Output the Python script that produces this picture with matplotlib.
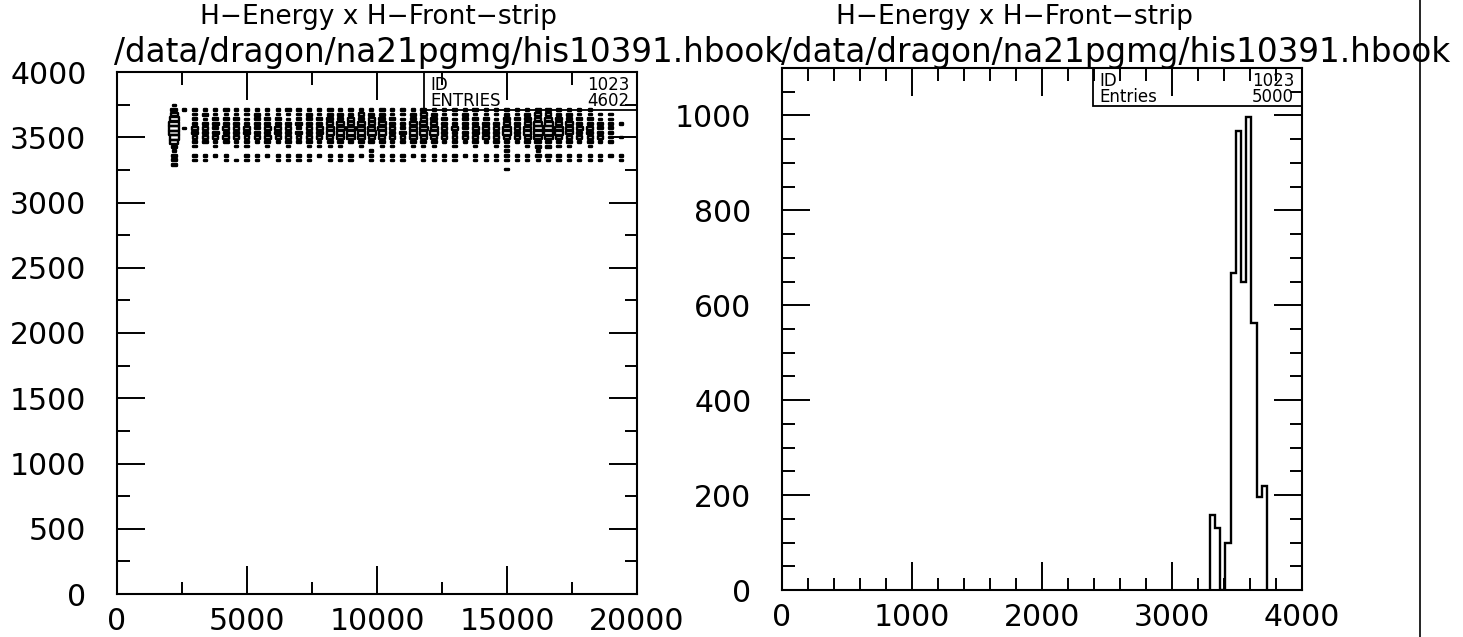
import matplotlib
matplotlib.use("Agg")
import matplotlib.pyplot as plt
import numpy as np
from matplotlib.patches import Rectangle
from matplotlib.collections import PatchCollection
from matplotlib.lines import Line2D
from matplotlib.ticker import MultipleLocator

title1 = "H\u2212Energy x H\u2212Front\u2212strip"
title2 = "/data/dragon/na21pgmg/his10391.hbook"

# left: 2D histogram (box option), strip bin centres and energy rows
strip_centers = [2200, 2600, 3000, 3400, 3800, 4200, 4600, 5000, 5400, 5800,
                 6200, 6600, 7000, 7400, 7800, 8200, 8600, 9000, 9400, 9800,
                 10200, 10600, 11000, 11400, 11800, 12200, 12600, 13000, 13400, 13800,
                 14200, 14600, 15000, 15400, 15800, 16200, 16600, 17000, 17400, 17800,
                 18200, 18600, 19000, 19400]
energy_rows = [3743, 3708, 3673, 3638, 3603, 3568, 3533, 3498, 3463, 3428,
               3393, 3358, 3323, 3288, 3253]
# relative cell content (0-9), one string per energy row, one char per strip bin
box_levels = [
    "10" + "0000000000000" + "000000" + "00" + "000" + "000000" + "0" + "0" + "0" + "00" + "00" + "0000" + "0",
    "31" + "1112111112111" + "211112" + "11" + "121" + "111211" + "2" + "1" + "1" + "22" + "11" + "1100" + "0",
    "50" + "1211112111121" + "222322" + "11" + "232" + "112111" + "2" + "1" + "2" + "33" + "22" + "1111" + "0",
    "80" + "2122212221222" + "334343" + "21" + "343" + "212221" + "3" + "2" + "3" + "44" + "33" + "2211" + "0",
    "90" + "2232223222322" + "454545" + "22" + "454" + "223232" + "4" + "2" + "4" + "66" + "44" + "2221" + "1",
    "91" + "3323332333233" + "565656" + "32" + "565" + "332343" + "5" + "3" + "5" + "77" + "55" + "3322" + "0",
    "90" + "3332333233323" + "556565" + "23" + "556" + "323333" + "5" + "3" + "5" + "77" + "54" + "2322" + "0",
    "80" + "2223222322232" + "445444" + "22" + "443" + "222232" + "4" + "2" + "4" + "66" + "43" + "2221" + "1",
    "60" + "1212121212121" + "222222" + "11" + "222" + "121212" + "2" + "1" + "2" + "33" + "22" + "1211" + "0",
    "20" + "1010110101011" + "110101" + "10" + "111" + "010101" + "1" + "0" + "1" + "22" + "11" + "0100" + "0",
    "10" + "0000000000000" + "000010" + "00" + "000" + "000000" + "1" + "0" + "0" + "10" + "00" + "0000" + "0",
    "20" + "1111011111111" + "111111" + "11" + "111" + "111111" + "1" + "1" + "1" + "22" + "11" + "1111" + "1",
    "20" + "1101111011110" + "111011" + "11" + "011" + "110111" + "1" + "1" + "1" + "11" + "11" + "1110" + "1",
    "20" + "0000000000000" + "000000" + "00" + "000" + "000000" + "0" + "0" + "0" + "00" + "00" + "0000" + "0",
    "00" + "0000000000000" + "000000" + "00" + "000" + "000000" + "1" + "0" + "0" + "00" + "00" + "0000" + "0",
]
left_id, left_entries = "1023", "4602"

# right: 1D projection
energy_edges = [3290, 3330, 3370, 3410, 3450, 3490, 3530, 3570, 3610, 3650, 3690, 3730]
energy_counts = [157, 130, 0, 98, 668, 967, 648, 997, 563, 196, 219]
right_id, right_entries = "1023", "5000"

W, H = 1463, 637
fig = plt.figure(figsize=(W / 100, H / 100), dpi=100)
fig.patch.set_facecolor("white")

axL = fig.add_axes([117 / W, (H - 594) / H, 520 / W, 522 / H])
axR = fig.add_axes([782 / W, (H - 590) / H, 520 / W, 522 / H])

tick_font = 21.5
for ax in (axL, axR):
    for sp in ax.spines.values():
        sp.set_linewidth(1.5)
    ax.tick_params(which="both", direction="in", top=True, right=True,
                   width=1.4, labelsize=tick_font)
    ax.tick_params(which="major", length=20)
    ax.tick_params(which="minor", length=9)
    ax.tick_params(axis="y", pad=22)
    ax.tick_params(axis="x", pad=9)

# left panel
axL.set_xlim(0, 20000)
axL.set_ylim(0, 4000)
axL.xaxis.set_major_locator(MultipleLocator(5000))
axL.xaxis.set_minor_locator(MultipleLocator(2500))
axL.yaxis.set_major_locator(MultipleLocator(500))
axL.yaxis.set_minor_locator(MultipleLocator(250))

levels = np.array([[int(c) for c in row] for row in box_levels])
bw, bh = 400, 35
boxes = []
for i, yc in enumerate(energy_rows):
    for j, xc in enumerate(strip_centers):
        lev = levels[i, j]
        if lev == 0:
            continue
        f = np.sqrt(lev / levels.max()) * 0.95
        boxes.append(Rectangle((xc - bw * f / 2, yc - bh * f / 2), bw * f, bh * f))
axL.add_collection(PatchCollection(boxes, facecolor="none", edgecolor="black", linewidth=1.7))

axL.add_patch(Rectangle((0.59, 0.927), 0.41, 0.073, transform=axL.transAxes,
                        fill=False, lw=1.3, clip_on=False))
axL.text(0.603, 0.975, "ID", transform=axL.transAxes, fontsize=12, va="center")
axL.text(0.985, 0.975, left_id, transform=axL.transAxes, fontsize=12, va="center", ha="right")
axL.text(0.603, 0.944, "ENTRIES", transform=axL.transAxes, fontsize=12, va="center")
axL.text(0.985, 0.944, left_entries, transform=axL.transAxes, fontsize=12, va="center", ha="right")

# right panel
axR.set_xlim(0, 4000)
axR.set_ylim(0, 1100)
axR.xaxis.set_major_locator(MultipleLocator(1000))
axR.xaxis.set_minor_locator(MultipleLocator(200))
axR.yaxis.set_major_locator(MultipleLocator(200))
axR.yaxis.set_minor_locator(MultipleLocator(50))
axR.stairs(energy_counts, energy_edges, color="black", lw=1.7)

axR.add_patch(Rectangle((0.598, 0.927), 0.402, 0.073, transform=axR.transAxes,
                        fill=False, lw=1.3, clip_on=False))
axR.text(0.61, 0.975, "ID", transform=axR.transAxes, fontsize=12, va="center")
axR.text(0.985, 0.975, right_id, transform=axR.transAxes, fontsize=12, va="center", ha="right")
axR.text(0.61, 0.944, "Entries", transform=axR.transAxes, fontsize=12, va="center")
axR.text(0.985, 0.944, right_entries, transform=axR.transAxes, fontsize=12, va="center", ha="right")

# titles
fig.text(379 / W, 1 - 17 / H, title1, fontsize=19, ha="center", va="center")
fig.text(1015 / W, 1 - 17 / H, title1, fontsize=19, ha="center", va="center")
fig.text(114 / W, 1 - 62 / H, title2, fontsize=23.5, ha="left", va="baseline")
fig.text(781 / W, 1 - 62 / H, title2, fontsize=23.5, ha="left", va="baseline")

# page edge line from the scan
fig.add_artist(Line2D([1420 / W, 1420 / W], [0, 1], color="black", lw=1.2))

fig.savefig("out.png", dpi=100)
